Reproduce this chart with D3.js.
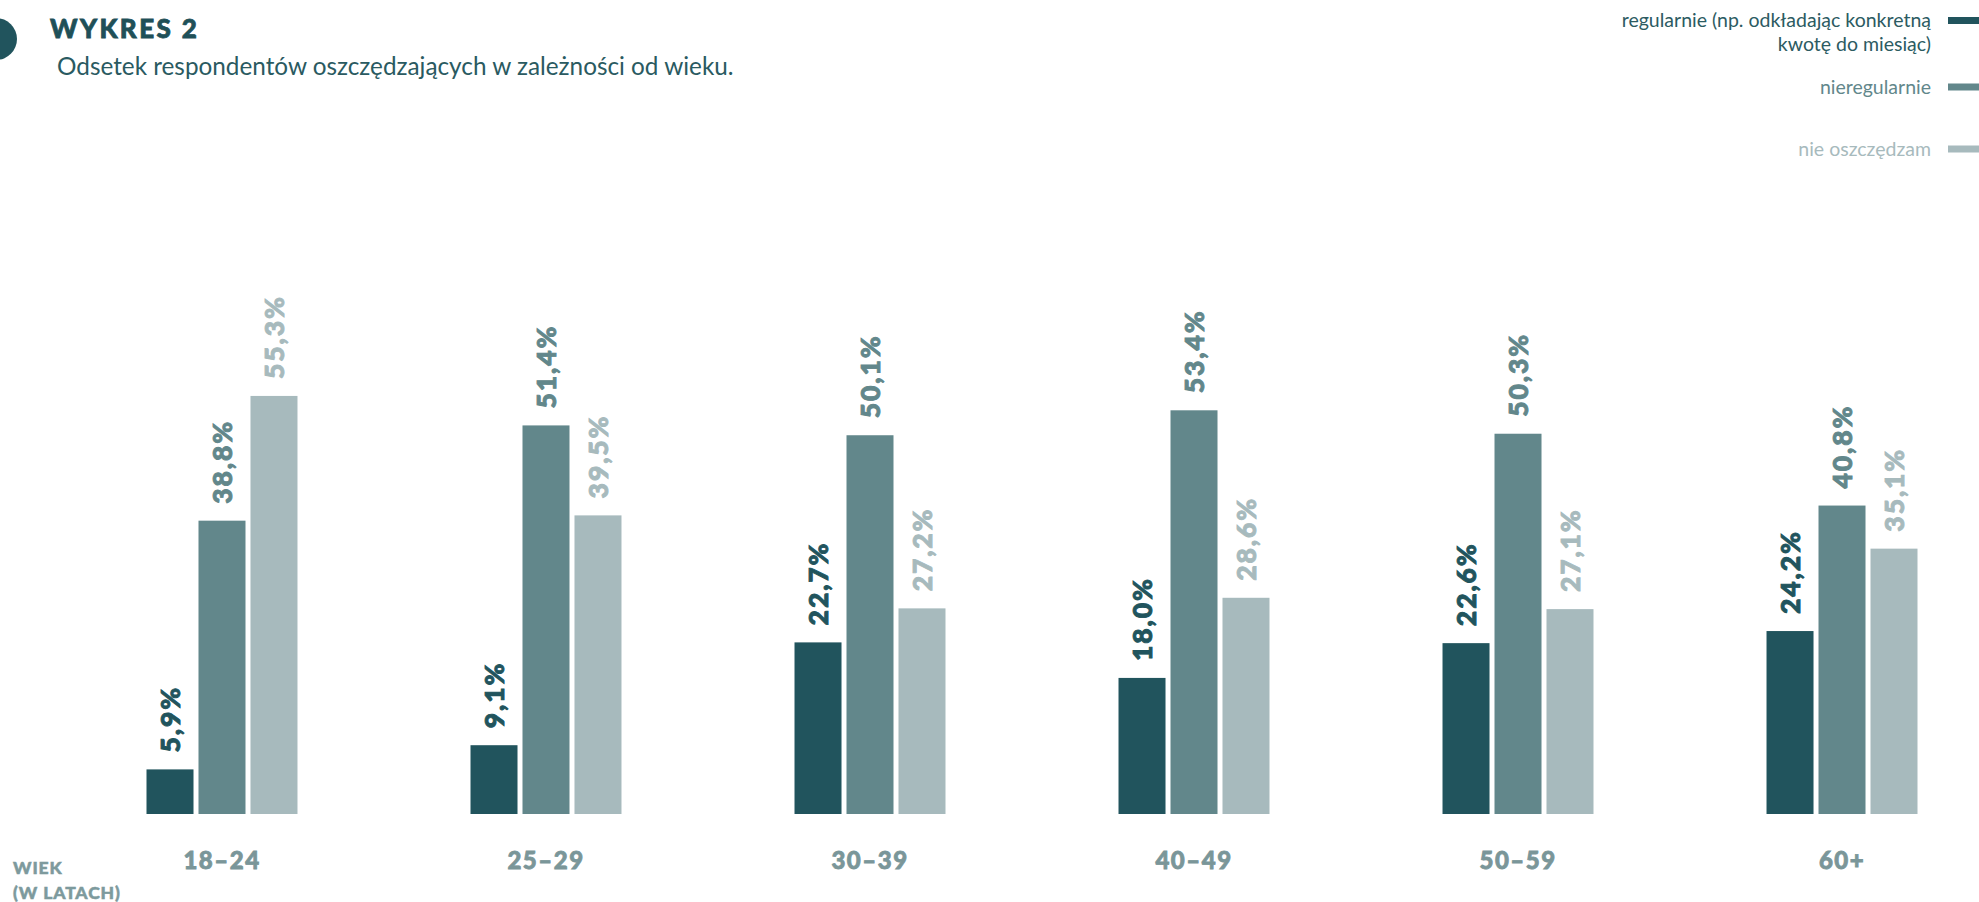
<!DOCTYPE html>
<html lang="pl">
<head>
<meta charset="utf-8">
<script src="https://cdn.jsdelivr.net/npm/d3@7"></script>
<style>
  html, body { margin: 0; padding: 0; background: #ffffff; }
  svg { display: block; font-family: Lato, "Open Sans", sans-serif; }
</style>
</head>
<body>
<svg id="chart" width="1979" height="902"></svg>
<script>
// Age groups and savings behaviour shares (%)
const ageGroups = ["18–24", "25–29", "30–39", "40–49", "50–59", "60+"];
const seriesNames = ["regularnie (np. odkładając konkretną kwotę do miesiąc)", "nieregularnie", "nie oszczędzam"];
const regularly = [5.9, 9.1, 22.7, 18.0, 22.6, 24.2];
const irregularly = [38.8, 51.4, 50.1, 53.4, 50.3, 40.8];
const notSaving = [55.3, 39.5, 27.2, 28.6, 27.1, 35.1];
const legendLines = [["regularnie (np. odkładając konkretną", "kwotę do miesiąc)"], ["nieregularnie"], ["nie oszczędzam"]];
const seriesKeys = ["reg", "irr", "none"];
const colors = ["#21545d", "#62878b", "#a7babd"];

const rows = ageGroups.map((g, i) => ({ group: g, reg: regularly[i], irr: irregularly[i], none: notSaving[i] }));

const svg = d3.select("#chart");

// Scales
const x0 = d3.scaleBand().domain(ageGroups).range([146.5, 1917.5]).paddingInner(0.534).paddingOuter(0);
const x1 = d3.scaleBand().domain(seriesKeys).range([0, x0.bandwidth()]).paddingInner(0.096);
const y = d3.scaleLinear().domain([0, 100]).range([814, 58]);
const color = d3.scaleOrdinal().domain(seriesKeys).range(colors);

// Header
svg.append("circle").attr("cx", -4).attr("cy", 39).attr("r", 21).attr("fill", "#21545d");
svg.append("text").attr("x", 50).attr("y", 38)
  .attr("font-size", 26).attr("font-weight", 900).attr("letter-spacing", 2.4)
  .attr("fill", "#1f5058").attr("stroke", "#1f5058").attr("stroke-width", 0.8)
  .text("WYKRES 2");
svg.append("text").attr("x", 57).attr("y", 75)
  .attr("font-size", 24.3).attr("fill", "#2a5a61")
  .text("Odsetek respondentów oszczędzających w zależności od wieku.");

// Bars
const groups = svg.append("g").selectAll("g").data(rows).join("g")
  .attr("transform", d => `translate(${x0(d.group)},0)`);

groups.selectAll("rect")
  .data(d => seriesKeys.map(k => ({ key: k, value: d[k] })))
  .join("rect")
  .attr("x", d => x1(d.key))
  .attr("width", x1.bandwidth())
  .attr("y", d => y(d.value))
  .attr("height", d => y(0) - y(d.value))
  .attr("fill", d => color(d.key));

// Value labels, rotated above each bar
groups.selectAll("text.val")
  .data(d => seriesKeys.map(k => ({ key: k, value: d[k] })))
  .join("text")
  .attr("class", "val")
  .attr("transform", d => `translate(${x1(d.key) + x1.bandwidth() / 2},${y(d.value) - 17}) rotate(-90)`)
  .attr("dy", "0.36em")
  .attr("font-size", 26.5).attr("font-weight", 900).attr("letter-spacing", 1.9)
  .attr("fill", d => color(d.key))
  .attr("stroke", d => color(d.key)).attr("stroke-width", 0.9)
  .text(d => d3.format(".1f")(d.value).replace(".", ",") + "%");

// X axis labels
const xAxis = d3.axisBottom(x0).tickSize(0).tickPadding(0);
const xg = svg.append("g").attr("transform", "translate(0,852)").call(xAxis);
xg.select(".domain").remove();
xg.selectAll("text")
  .attr("font-family", "Lato, sans-serif")
  .attr("font-size", 24).attr("font-weight", 900).attr("letter-spacing", 1.5)
  .attr("fill", "#7a9699").attr("stroke", "#7a9699").attr("stroke-width", 0.8)
  .attr("dy", "0.71em");

svg.append("text").attr("x", 13).attr("y", 874)
  .attr("font-size", 17.5).attr("font-weight", 900).attr("letter-spacing", 0.9)
  .attr("fill", "#7d9a9d").attr("stroke", "#7d9a9d").attr("stroke-width", 0.5)
  .text("WIEK");
svg.append("text").attr("x", 13).attr("y", 899)
  .attr("font-size", 17.5).attr("font-weight", 900).attr("letter-spacing", 0.9)
  .attr("fill", "#7d9a9d").attr("stroke", "#7d9a9d").attr("stroke-width", 0.5)
  .text("(W LATACH)");

// Legend
const legendY = [20.5, 87, 149];
const legendTextColors = ["#2c5b62", "#62878b", "#a7babd"];
const legend = svg.append("g");
seriesKeys.forEach((k, i) => {
  legend.append("rect").attr("x", 1948).attr("y", legendY[i] - 3.5)
    .attr("width", 31).attr("height", 7).attr("fill", color(k));
  const t = legend.append("text").attr("x", 1931).attr("y", legendY[i] + 6.5)
    .attr("text-anchor", "end").attr("font-size", 19.5).attr("fill", legendTextColors[i]);
  legendLines[i].forEach((line, j) => {
    t.append("tspan").attr("x", 1931).attr("dy", j === 0 ? 0 : 24).text(line);
  });
});
</script>
</body>
</html>
